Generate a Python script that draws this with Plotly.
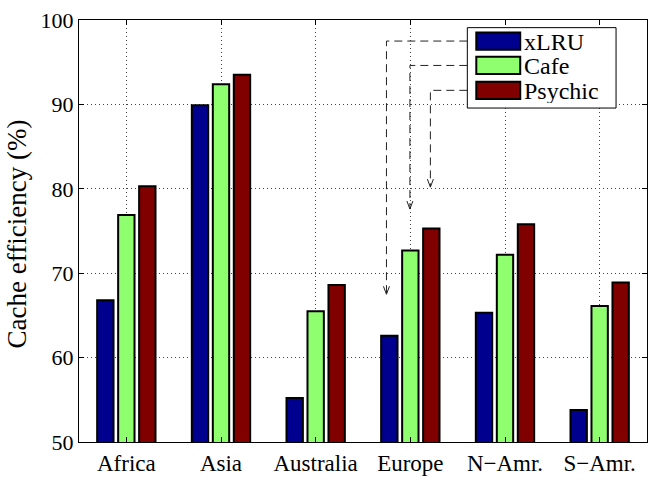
import plotly.graph_objects as go

# Regions and measured cache efficiency (%) per policy
regions = ["Africa", "Asia", "Australia", "Europe", "N\u2212Amr.", "S\u2212Amr."]
xlru = [66.8, 89.9, 55.2, 62.6, 65.3, 53.8]
cafe = [76.9, 92.4, 65.5, 72.7, 72.2, 66.1]
psychic = [80.3, 93.5, 68.6, 75.3, 75.8, 68.9]

series_names = ["xLRU", "Cafe", "Psychic"]
series_values = [xlru, cafe, psychic]
series_colors = ["#00008F", "#8FFF70", "#800000"]

W, H = 656, 484
ML, MR, MT, MB = 79, 8, 15, 28
PW, PH = W - ML - MR, H - MT - MB
Y0, Y1 = 50, 100
SERIF = "Liberation Serif"


def px_x(px):
    return (px - ML) / PW


def px_y(py):
    return (H - MB - py) / PH


def data_x(px):
    return (px - ML) / PW * len(regions) - 0.5


def data_y(py):
    return Y0 + (H - MB - py) / PH * (Y1 - Y0)


fig = go.Figure()
for name, vals, col in zip(series_names, series_values, series_colors):
    fig.add_trace(go.Bar(
        x=regions, y=vals, name=name,
        marker=dict(color=col, line=dict(color="black", width=2)),
        showlegend=False,
    ))

shapes = []
annotations = []

# Legend box, swatches and labels
lx0, lx1, ly0, ly1 = 468, 617, 23, 107
shapes.append(dict(type="rect", xref="paper", yref="paper",
                   x0=px_x(lx0), x1=px_x(lx1), y0=px_y(ly1), y1=px_y(ly0),
                   fillcolor="white", line=dict(color="black", width=1), layer="above"))
row_y = [37, 62.5, 88.5]
for name, col, ry in zip(series_names, series_colors, row_y):
    shapes.append(dict(type="rect", xref="paper", yref="paper",
                       x0=px_x(477), x1=px_x(521), y0=px_y(ry + 9), y1=px_y(ry - 9),
                       fillcolor=col, line=dict(color="black", width=2), layer="above"))
    annotations.append(dict(xref="paper", yref="paper", x=px_x(524), y=px_y(ry + 1),
                            text=name, showarrow=False, xanchor="left", yanchor="middle",
                            height=24, valign="middle", borderpad=0,
                            font=dict(family=SERIF, size=24, color="black")))

# Dashed leader lines from each legend entry down to its Europe bar
eu = regions.index("Europe")
corner_px = [387, 410.5, 431]
for vals, ry, cx in zip(series_values, row_y, corner_px):
    xc = data_x(cx)
    tip = vals[eu] + 4.9
    hy = data_y(ry)
    shapes.append(dict(type="path", xref="x", yref="y",
                       path=f"M {data_x(lx0)},{hy} L {xc},{hy} L {xc},{tip}",
                       line=dict(color="#222222", width=1, dash="8px,5px"), layer="above"))
    shapes.append(dict(type="path", xref="x", yref="y", xsizemode="pixel", ysizemode="pixel",
                       xanchor=xc, yanchor=tip, path="M -3,8 L 0,0 L 3,8",
                       line=dict(color="#222222", width=1), layer="above"))

annotations.append(dict(xref="paper", yref="paper", x=px_x(17), y=px_y(239),
                        text="Cache efficiency (%)", showarrow=False, textangle=-90,
                        xanchor="center", yanchor="middle",
                        font=dict(family=SERIF, size=27, color="black")))

fig.update_layout(
    width=W, height=H,
    margin=dict(l=ML, r=MR, t=MT, b=MB, pad=0),
    paper_bgcolor="white", plot_bgcolor="white",
    barmode="group", bargap=0.335, bargroupgap=0.22,
    shapes=shapes, annotations=annotations,
    font=dict(family=SERIF, size=22, color="black"),
)
fig.update_xaxes(
    range=[-0.5, len(regions) - 0.5],
    showline=True, linecolor="black", linewidth=1, mirror="ticks",
    ticks="inside", ticklen=5, tickcolor="black",
    showgrid=True, gridcolor="#444444", griddash="1px,3px", gridwidth=1,
    tickfont=dict(family=SERIF, size=23, color="black"),
)
fig.update_yaxes(
    range=[Y0, Y1], dtick=10,
    showline=True, linecolor="black", linewidth=1, mirror="ticks",
    ticks="inside", ticklen=5, tickcolor="black",
    showgrid=True, gridcolor="#444444", griddash="1px,3px", gridwidth=1,
    zeroline=False,
    tickfont=dict(family=SERIF, size=22, color="black"),
)

fig.write_html("out.html")
